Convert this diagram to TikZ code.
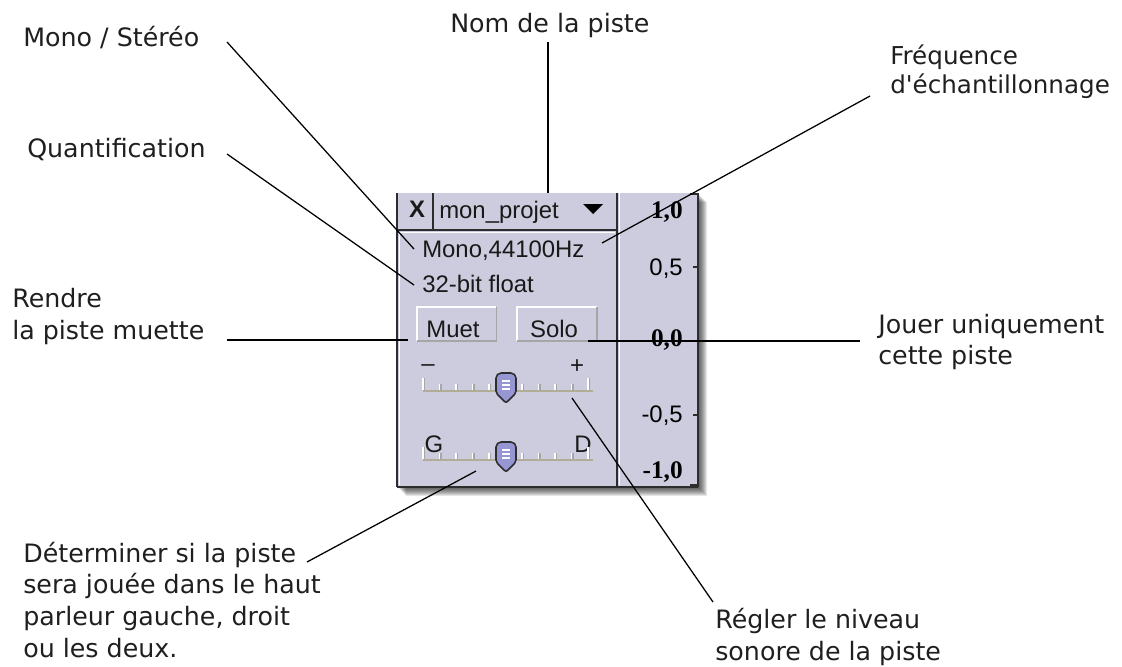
\documentclass[tikz,border=0pt]{standalone}
\usepackage{fontspec}
\setmainfont{DejaVu Sans}[Ligatures=TeXOff]
\newfontfamily\uifont{Liberation Sans}[Ligatures=TeXOff]
\newfontfamily\rulerfont{Liberation Serif}

\definecolor{panelbg}{RGB}{204,204,222}
\definecolor{thumbfill}{RGB}{150,150,210}
\definecolor{trackcol}{RGB}{176,172,150}
\definecolor{edgedark}{RGB}{45,45,45}

\tikzset{
  callout/.style={font=\fontsize{18}{22.5}\selectfont, align=left, inner sep=0pt, anchor=base west, text=black!88},
  leader/.style={black, line width=0.9pt},
  uitext/.style={font=\uifont\fontsize{17}{20}\selectfont, inner sep=0pt, anchor=base west, text=black!90},
  rulerbold/.style={font=\rulerfont\bfseries\fontsize{18}{20}\selectfont, inner sep=0pt, anchor=base east},
  rulerlbl/.style={font=\uifont\fontsize{17}{20}\selectfont, inner sep=0pt, anchor=base east},
  button/.style={draw=none, fill=panelbg, minimum width=79*0.025cm, minimum height=33*0.025cm, inner sep=0pt},
  edge/.style={edgedark, line width=1.4pt}
}

% slider thumb: #1 = centre x, #2 = top y
\newcommand\slidethumb[2]{%
  \filldraw[fill=thumbfill, draw=edgedark, line width=1.1pt, rounded corners=1.5pt]
    ({#1-10},{#2+20}) -- ({#1-10},{#2+3}) -- ({#1-7},{#2}) -- ({#1+7},{#2})
    -- ({#1+10},{#2+3}) -- ({#1+10},{#2+20}) -- ({#1},{#2+30}) -- cycle;
  \draw[white, line width=0.9pt] ({#1-4},{#2+8}) -- ({#1+4},{#2+8})
    ({#1-4},{#2+12}) -- ({#1+4},{#2+12}) ({#1-4},{#2+16}) -- ({#1+4},{#2+16});
}
% slider track with ticks: #1 = y of the track
\newcommand\slidetrack[1]{%
  \draw[trackcol, line width=1.3pt] (423,{#1+1}) -- (593,{#1+1});
  \foreach \k in {0,...,10}{
    \pgfmathsetmacro\tx{423+16.5*\k}
    \ifnum\k=0 \def\th{12}\else\ifnum\k=10 \def\th{12}\else\def\th{6}\fi\fi
    \draw[gray!70, line width=0.8pt] ({\tx+1.5},{#1-\th}) -- ({\tx+1.5},{#1});
    \draw[white, line width=1pt] (\tx,{#1-\th}) -- (\tx,{#1});
  }
}

\begin{document}
\begin{tikzpicture}[x=0.025cm, y=-0.025cm]
\useasboundingbox (0,0) rectangle (1122,666);

% Shadow
\foreach \i in {1,...,9}
  \fill[black, opacity=0.1] ({397+\i},{193+\i}) rectangle ({698+\i},{487+\i});

% Panel
\fill[panelbg] (397,193) rectangle (698,487);
\draw[white, line width=0.9pt] (399.5,233) -- (399.5,485) (399,232.5) -- (615,232.5);
\draw[white, line width=0.9pt] (619.5,193) -- (619.5,485);
\draw[edge] (397,193) -- (397,487);
\draw[edge] (433,193) -- (433,230);
\draw[edge] (397,230) -- (617,230);
\draw[edge] (617,193) -- (617,487);
\draw[edge, line width=1.8pt] (698,193) -- (698,487);
\draw[edge, line width=1.8pt] (397,487) -- (698,487);

% Header
\node[uitext, font=\uifont\bfseries\fontsize{17}{20}\selectfont, anchor=base] (closeX) at (417,217) {X};
\node[uitext] (trackName) at (439,218) {mon\_projet};
\fill[black] (583,204) -- (603,204) -- (593,214) -- cycle;

% Info lines
\node[uitext] (txtRate) at (422,257) {Mono,44100Hz};
\node[uitext] (txtFmt) at (422,292) {32-bit float};

% Buttons
\node[button] (btnMuet) at (456.5,324) {};
\node[button] (btnSolo) at (557,324) {};
\foreach \b in {btnMuet,btnSolo}{
  \draw[white, line width=1.3pt] (\b.south west) |- (\b.north east);
  \draw[gray!70, line width=1.1pt] (\b.south west) -| (\b.north east);
}
\node[uitext, anchor=base] (txtMuet) at (453,337) {Muet};
\node[uitext, anchor=base] (txtSolo) at (554,337) {Solo};

% Volume slider
\node[uitext, anchor=base] (volMinus) at (428,371) {–};
\node[uitext, anchor=base] (volPlus) at (577,373) {+};
\slidetrack{390}
\slidethumb{506}{373}

% Pan slider
\node[uitext, anchor=base] (panG) at (434,452) {G};
\node[uitext, anchor=base] (panD) at (583,452) {D};
\slidetrack{459}
\slidethumb{506}{442}

% Ruler
\node[rulerbold] (rTop) at (683,218) {1,0};
\node[rulerlbl] (rHalf) at (683,275) {0,5};
\node[rulerbold] (rZero) at (683,346) {0,0};
\node[rulerlbl] (rMHalf) at (683,422) {-0,5};
\node[rulerbold] (rBot) at (683,478) {-1,0};
\draw[edge, line width=1pt] (690,194) -- (698,194) (693,267) -- (698,267)
  (693,415) -- (698,415) (690,485) -- (698,485);

% Callouts (base = baseline of the last line)
\node[callout] (lblMono) at (23,46.5) {Mono / Stéréo};
\node[callout] (lblNom) at (450,32) {Nom de la piste};
\node[callout] (lblQuant) at (27,157) {Quantification};
\node[callout, font=\fontsize{17.5}{20}\selectfont] (lblFreq) at (890,93) {Fréquence\\d'échantillonnage};
\node[callout] (lblMuet) at (12,339) {Rendre\\la piste muette};
\node[callout, font=\fontsize{18}{21.5}\selectfont] (lblSolo) at (878,364) {Jouer uniquement\\cette piste};
\node[callout] (lblPan) at (23,657) {Déterminer si la piste\\sera jouée dans le haut\\parleur gauche, droit\\ou les deux.};
\node[callout] (lblGain) at (715,660) {Régler le niveau\\sonore de la piste};

% Leader ends
\coordinate (monoA) at (227,42);   \coordinate (monoB) at (414,249);
\coordinate (nomA) at (548,42);    \coordinate (nomB) at (548,193);
\coordinate (quantA) at (227,154); \coordinate (quantB) at (414,285);
\coordinate (freqA) at (870,96);   \coordinate (freqB) at (602,243);
\coordinate (muetA) at (227,340);  \coordinate (muetB) at (408,340);
\coordinate (soloA) at (860,341);  \coordinate (soloB) at (588,341);
\coordinate (panA) at (307,562);   \coordinate (panB) at (476,471);
\coordinate (gainA) at (713,602);  \coordinate (gainB) at (572,398);

% Leaders
\foreach \l in {mono,nom,quant,freq,muet,solo,pan,gain}
  \draw[leader] (\l A) -- (\l B);
\end{tikzpicture}
\end{document}
